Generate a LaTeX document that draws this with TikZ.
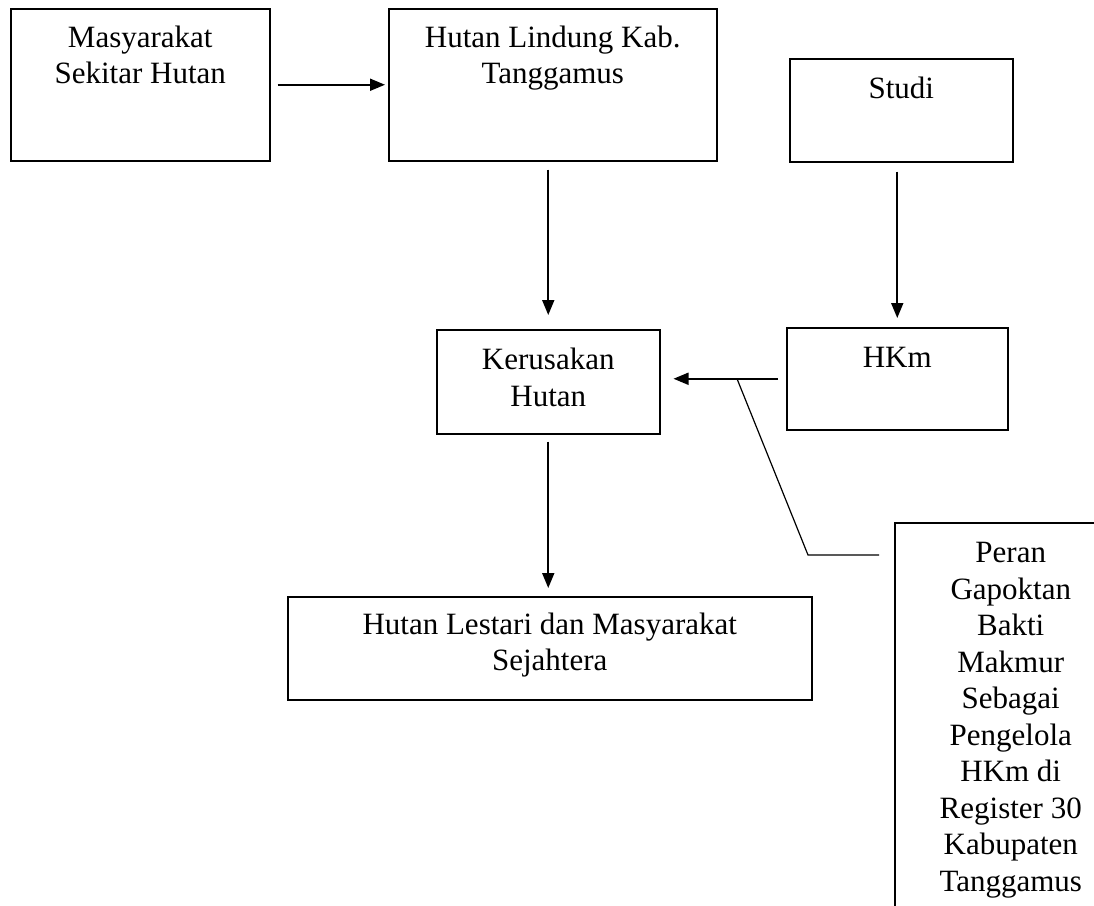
\documentclass[tikz,border=0pt]{standalone}
\usepackage{fontspec}
\setmainfont{Liberation Serif}
\usetikzlibrary{arrows.meta}
\newcommand{\bxtext}[4]{\parbox[c][#2pt][t]{#1pt}{\centering\vspace*{#3pt}\strut #4}}
\begin{document}
\begin{tikzpicture}[x=1pt,y=-1pt,
  box/.style={draw, line width=1.5pt, inner sep=0pt, anchor=north west, font=\fontsize{31}{36.5}\selectfont},
  arr/.style={line width=1.8pt, -{Triangle[length=15pt,width=12pt]}},
  lead/.style={line width=1.2pt}]
\clip (0,0) rectangle (1094,905);
\fill[white] (0,0) rectangle (1094,905);
\node[box] (n1) at (10,8) {\bxtext{259}{152}{13}{Masyarakat\\Sekitar Hutan}};
\node[box] (n2) at (388,8) {\bxtext{328}{152}{13}{Hutan Lindung Kab.\\Tanggamus}};
\node[box] (n3) at (789,58) {\bxtext{223}{103}{14.5}{Studi}};
\node[box] (n4) at (436,329) {\bxtext{223}{104}{14.5}{Kerusakan\\Hutan}};
\node[box] (n5) at (786,327) {\bxtext{221}{102}{14.5}{HKm}};
\node[box] (n6) at (287,596) {\bxtext{524}{103}{12}{Hutan Lestari dan Masyarakat\\Sejahtera}};
\node[box] (n7) at (894,522) {\bxtext{232}{420}{14.5}{Peran\\Gapoktan\\Bakti\\Makmur\\Sebagai\\Pengelola\\HKm di\\Register 30\\Kabupaten\\Tanggamus}};
\draw[arr] ([xshift=7pt]n1.east) -- ([xshift=-3pt]n1.east -| n2.west);
\draw[arr] ([yshift=-8pt]n2.south -| n4.north) -- ([yshift=14pt]n4.north);
\draw[arr] ([yshift=-9pt]n3.south -| n5.north) -- ([yshift=9pt]n5.north);
\draw[arr] ([xshift=-8pt]n5.west) -- ([xshift=13pt]n5.west -| n4.east);
\draw[arr] ([yshift=-7pt]n4.south) -- ([yshift=8pt]n6.north -| n4.south);
\coordinate (c1) at ([xshift=-49pt]n5.west);
\coordinate (c2) at ([xshift=-86pt,yshift=-33pt]n7.north west);
\coordinate (c3) at ([xshift=-15pt,yshift=-33pt]n7.north west);
\draw[lead] (c1) -- (c2) -- (c3);
\end{tikzpicture}
\end{document}
